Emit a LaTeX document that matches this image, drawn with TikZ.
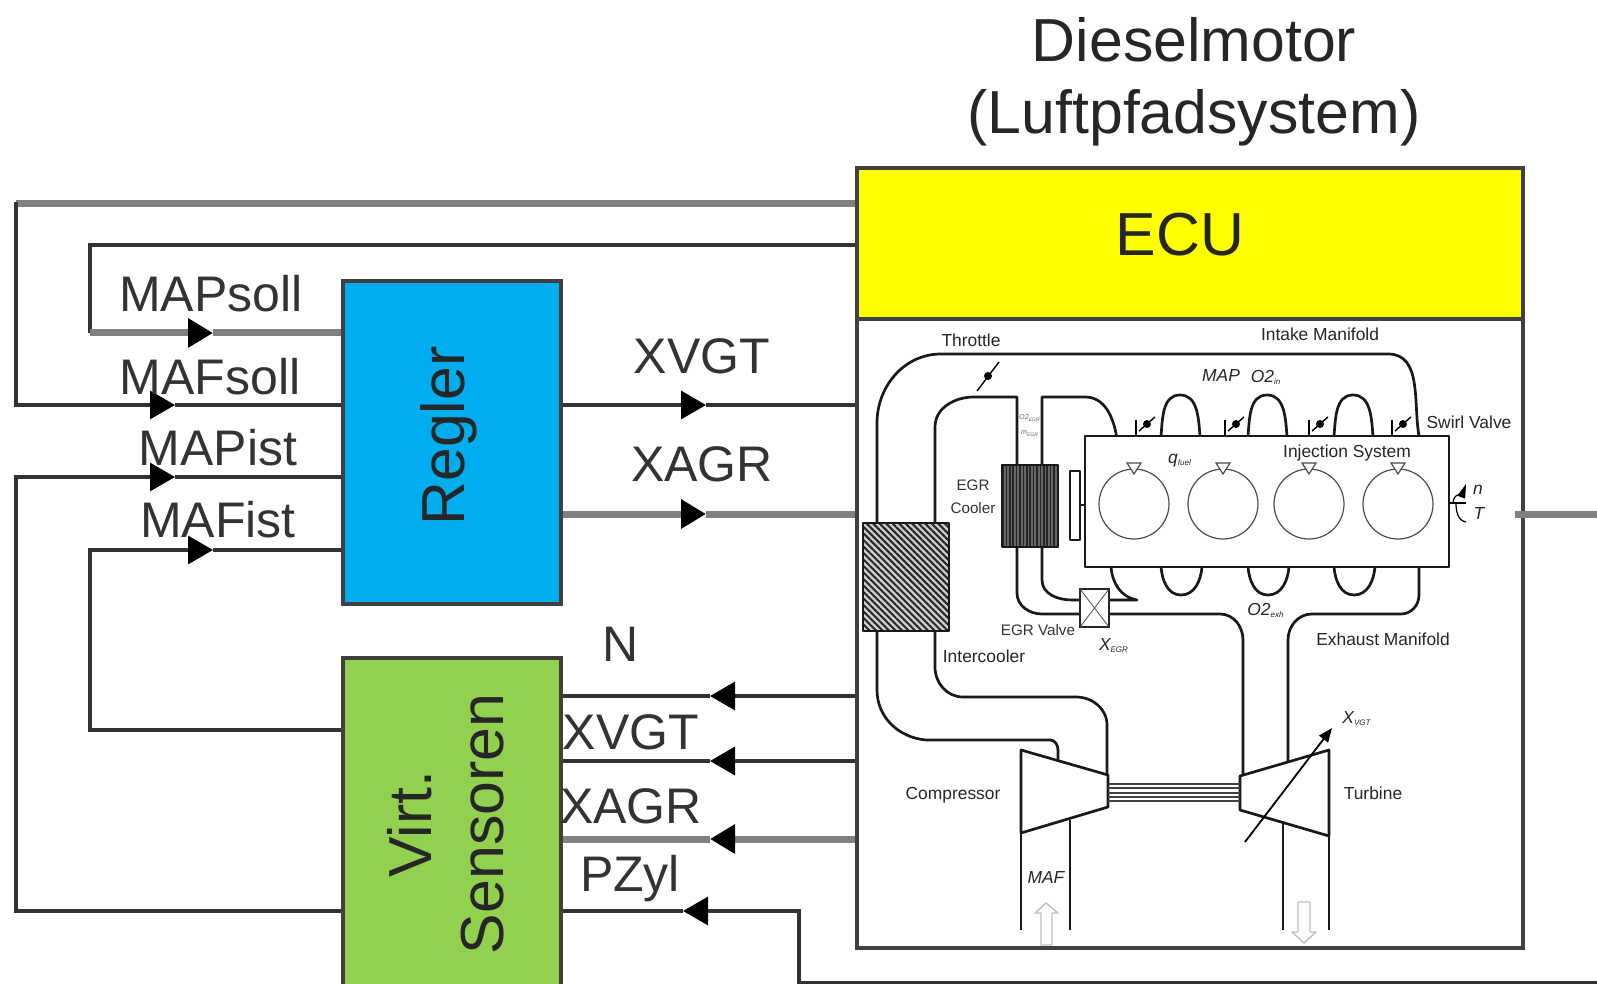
\documentclass[tikz,border=0pt]{standalone}
\usepackage{fontspec}
\setmainfont{Liberation Sans}
\usetikzlibrary{arrows.meta}
\usetikzlibrary{patterns.meta}

\definecolor{reglerblue}{HTML}{00AEEF}
\definecolor{sensorgreen}{HTML}{92D050}
\definecolor{ecuyellow}{HTML}{FFFF00}
\definecolor{linegray}{HTML}{808080}

\newcommand{\subtxt}[1]{\textsubscript{\fontsize{4}{4}\selectfont #1}}

\tikzset{
    block/.style={draw=black!75, line width=1.6pt, inner sep=0pt},
    bigtext/.style={font=\fontsize{30.4}{36}\selectfont, text=black!85, align=center, inner sep=0pt},
    sigtext/.style={font=\fontsize{25}{30}\selectfont, text=black!80, inner sep=0pt},
    small/.style={font=\fontsize{8.7}{10.5}\selectfont, text=black!85, align=center, inner sep=0pt},
    smaller/.style={font=\fontsize{7.6}{10}\selectfont, text=black!80, align=center, inner sep=0pt},
    tiny/.style={font=\fontsize{3.6}{4}\selectfont, text=black!60, inner sep=0pt},
    thinsig/.style={line width=1.6pt, draw=black!80},
    thicksig/.style={line width=3.5pt, draw=linegray},
    tip/.style={-{Triangle[length=12.5pt, width=14pt, color=black]}},
    pipe/.style={line width=1.35pt, draw=black!90, line join=round},
    fine/.style={line width=0.6pt, draw=black!70},
    hollow/.style={line width=0.7pt, draw=black!25, fill=white, line join=round}
}

\begin{document}
\begin{tikzpicture}[x=0.5pt, y=-0.5pt, line cap=butt]
    \useasboundingbox (0,0) rectangle (1597,984);

    \node[block, fill=white, minimum width=333pt, minimum height=390pt] (motor) at (1190,558) {};
    \node[block, fill=ecuyellow, minimum width=333pt, minimum height=75.5pt] (ecu) at (1190,243.5) {};
    \node[block, fill=reglerblue, minimum width=109pt, minimum height=161.5pt] (regler) at (452,442.5) {};
    \node[block, fill=sensorgreen, minimum width=109pt, minimum height=165pt] (virt) at (452,823) {};

    \node[bigtext] (title) at (1194,82) {Dieselmotor\\(Luftpfadsystem)};
    \node[bigtext] (ecutext) at (1180,235) {ECU};
    \node[bigtext, rotate=90] (reglertext) at (449,436) {Regler};
    \node[bigtext, rotate=90] (virttext) at (446,824) {Virt.\\Sensoren};

    \coordinate (Ta) at (16,204);
    \coordinate (Tb) at (16,405);
    \coordinate (Tc) at (175,405);
    \coordinate (Ua) at (90,245);
    \coordinate (Ub) at (90,333);
    \coordinate (Uc) at (213,333);
    \coordinate (Va) at (16,911);
    \coordinate (Vb) at (16,477);
    \coordinate (Vc) at (175,477);
    \coordinate (Wa) at (90,730);
    \coordinate (Wb) at (90,550);
    \coordinate (Wc) at (213,550);
    \coordinate (Xa) at (706,405);
    \coordinate (Xb) at (706,514);
    \coordinate (Ya) at (710,696);
    \coordinate (Yb) at (710,761);
    \coordinate (Yc) at (710,839);
    \coordinate (Za) at (683,911);
    \coordinate (Zb) at (799,911);
    \coordinate (Zc) at (799,983);
    \coordinate (Zd) at (1597,983);
    \coordinate (outR) at (1597,514);

    \draw[thicksig] (ecu.west |- Ta) -- (Ta);
    \draw[thinsig, line cap=rect] (Ta) -- (Tb);
    \draw[thinsig, tip] (Tb) -- (Tc);
    \draw[thinsig] (Tc) -- (regler.west |- Tc);

    \draw[thinsig, line join=miter] (ecu.west |- Ua) -- (Ua) -- (Ub);
    \draw[thicksig, tip] (Ub) -- (Uc);
    \draw[thicksig] (Uc) -- (regler.west |- Uc);

    \draw[thinsig, line join=miter, tip] (virt.west |- Va) -- (Va) -- (Vb) -- (Vc);
    \draw[thinsig] (Vc) -- (regler.west |- Vc);

    \draw[thinsig, line join=miter, tip] (virt.west |- Wa) -- (Wa) -- (Wb) -- (Wc);
    \draw[thinsig] (Wc) -- (regler.west |- Wc);

    \draw[thinsig, tip] (regler.east |- Xa) -- (Xa);
    \draw[thinsig] (Xa) -- (motor.west |- Xa);
    \draw[thicksig, tip] (regler.east |- Xb) -- (Xb);
    \draw[thicksig] (Xb) -- (motor.west |- Xb);

    \draw[thinsig, tip] (motor.west |- Ya) -- (Ya);
    \draw[thinsig] (Ya) -- (virt.east |- Ya);
    \draw[thinsig, tip] (motor.west |- Yb) -- (Yb);
    \draw[thinsig] (Yb) -- (virt.east |- Yb);
    \draw[thicksig, tip] (motor.west |- Yc) -- (Yc);
    \draw[thicksig] (Yc) -- (virt.east |- Yc);
    \draw[thinsig, line join=miter, tip] (Zd) -- (Zc) -- (Zb) -- (Za);
    \draw[thinsig] (Za) -- (virt.east |- Za);

    \draw[thicksig] (1515,514) -- (outR);

    \node[sigtext] (mapsoll) at (211,294) {MAPsoll};
    \node[sigtext] (mafsoll) at (210,377) {MAFsoll};
    \node[sigtext] (mapist) at (218,448) {MAPist};
    \node[sigtext] (mafist) at (218,520) {MAFist};
    \node[sigtext] (xvgtout) at (702,356) {XVGT};
    \node[sigtext] (xagrout) at (702,464) {XAGR};
    \node[sigtext] (nin) at (621,644) {N};
    \node[sigtext] (xvgtin) at (631,732) {XVGT};
    \node[sigtext] (xagrin) at (631,806) {XAGR};
    \node[sigtext] (pzyl) at (630,879) {PZyl};

    \draw[pipe] (877,523) -- (877,423) to[out=90, in=180] (941,354) -- (1388,354) to[out=0, in=100] (1419,436);
    \draw[pipe] (935,523) -- (935,427) to[out=90, in=180] (974,397) -- (1017,397) -- (1017,465);
    \draw[pipe] (1042,465) -- (1042,397) -- (1085,397) to[out=0, in=100] (1116.5,436);
    \draw[pipe] (1017,547) -- (1017,593) to[out=-90, in=180] (1042,614) -- (1080,614);
    \draw[pipe] (1042,547) -- (1042,580) to[out=-90, in=180] (1072,600) -- (1080,600);
    \draw[pipe] (1109,614) -- (1220,614) to[out=0, in=90] (1243,640) -- (1243,775);
    \draw[pipe] (1109,600) -- (1137,600) to[out=170, in=-85] (1111,567);
    \draw[pipe] (1419,567) -- (1419,595) to[out=-90, in=0] (1401,614) -- (1312,614) to[out=180, in=90] (1288,640) -- (1288,762);
    \draw[pipe] (877,631) -- (877,690) to[out=-90, in=175] (926,740) -- (1050,740) to[out=0, in=90] (1058,750) -- (1058,760);
    \draw[pipe] (935,631) -- (935,667) to[out=-90, in=180] (963,697) -- (1076,697) to[out=0, in=90] (1107,725) -- (1107,775);
    \draw[pipe] (1021,833) -- (1021,930);
    \draw[pipe] (1070,820) -- (1070,930);
    \draw[pipe] (1283,823) -- (1283,930);
    \draw[pipe] (1329,836) -- (1329,930);

    \foreach \x in {1161,1248,1334}{
        \draw[pipe] (\x,436) to[out=85, in=180] ({\x+19},395) to[out=0, in=95] ({\x+39},436);
        \draw[pipe] (\x,567) to[out=-85, in=180] ({\x+20},595) to[out=0, in=-95] ({\x+41},567);
    }

    \draw[pipe, fill=white] (1085,436) rectangle (1449,567);
    \draw[pipe, fill=white] (1070,471) rectangle (1080,540);
    \draw[pipe] (1080,505) -- (1085,505);

    \foreach \x in {1136,1225,1309,1392}{
        \draw[line width=0.7pt] (\x,436) -- (\x,420);
        \draw[line width=0.7pt] ({\x+3},431) -- ({\x+19},417);
        \fill ({\x+11},424) circle (4);
    }
    \foreach \x in {1134,1223,1309,1398}{
        \draw[fine] (\x,504) circle (35);
        \draw[fine, fill=white] ({\x-7},463) -- ({\x+7},463) -- (\x,474) -- cycle;
    }

    \draw[line width=0.7pt] (977,391) -- (999,362);
    \fill (988,376) circle (4);

    \draw[pipe, preaction={fill=black!20}, pattern={Lines[angle=-45, distance=2.3pt, line width=1pt]}, pattern color=black!85] (863,523) rectangle (949,631);
    \draw[pipe, preaction={fill=black!60}, pattern={Lines[angle=90, distance=1.7pt, line width=0.8pt]}, pattern color=black!85] (1002,465) rectangle (1058,547);

    \draw[line width=0.8pt, draw=black!85, fill=white] (1080,589) rectangle (1109,627);
    \draw[line width=0.4pt, draw=black!70] (1080,589) -- (1109,627);
    \draw[line width=0.4pt, draw=black!70] (1080,627) -- (1109,589);

    \draw[pipe, fill=white] (1021,750) -- (1108,775) -- (1108,807) -- (1021,833) -- cycle;
    \draw[pipe, fill=white] (1240,776) -- (1329,750) -- (1329,836) -- (1240,810) -- cycle;
    \foreach \y in {784,788,793,797,801}{
        \draw[line width=0.8pt, draw=black!75] (1108,\y) -- (1240,\y);
    }
    \draw[line width=0.9pt, -{Triangle[length=7pt, width=5.5pt]}] (1245,842) -- (1332,728);

    \draw[line width=0.6pt] (1449,503) -- (1466,503);
    \draw[line width=0.6pt, -{Triangle[length=7pt, width=4pt]}] (1453,503) to[out=90, in=-110] (1466,484);
    \draw[line width=0.6pt] (1456,503) to[out=-90, in=170] (1466,522);

    \draw[hollow] (1041,945) -- (1041,913) -- (1035,913) -- (1046,903) -- (1058,913) -- (1052,913) -- (1052,945) -- cycle;
    \draw[hollow] (1298,902) -- (1310,902) -- (1310,932) -- (1316,932) -- (1304,943) -- (1292,932) -- (1298,932) -- cycle;

    \node[small] (throttle) at (971,340) {Throttle};
    \node[small] (intake) at (1320,334) {Intake Manifold};
    \node[small] (map) at (1221,376) {\itshape MAP};
    \node[small] (otwoin) at (1266,377) {\itshape O2\subtxt{in}};
    \node[small] (swirl) at (1469,422) {Swirl Valve};
    \node[small] (injection) at (1347,453) {Injection System};
    \node[small] (qfuel) at (1180,461) {\itshape q\subtxt{fuel}};
    \node[small] (nlabel) at (1478,490) {\itshape n};
    \node[small] (tlabel) at (1479,514) {\itshape T};
    \node[smaller] (cooler) at (973,497) {EGR\\[1.5pt]Cooler};
    \node[smaller] (valve) at (1038,630) {EGR Valve};
    \node[small] (xegr) at (1114,646) {\itshape X\subtxt{EGR}};
    \node[small] (otwoexh) at (1266,610) {\itshape O2\subtxt{exh}};
    \node[small] (exhaust) at (1383,639) {Exhaust Manifold};
    \node[small] (intercooler) at (984,656) {Intercooler};
    \node[small] (xvgtlabel) at (1357,719) {\itshape X\subtxt{VGT}};
    \node[small] (compressor) at (953,795) {Compressor};
    \node[small] (turbine) at (1373,793) {Turbine};
    \node[small] (maf) at (1046,878) {\itshape MAF};
    \node[tiny] (otwoegr) at (1030,418) {\itshape O2\textsubscript{EGR}};
    \node[tiny] (megr) at (1030,434) {\itshape m\textsubscript{EGR}};
\end{tikzpicture}
\end{document}
